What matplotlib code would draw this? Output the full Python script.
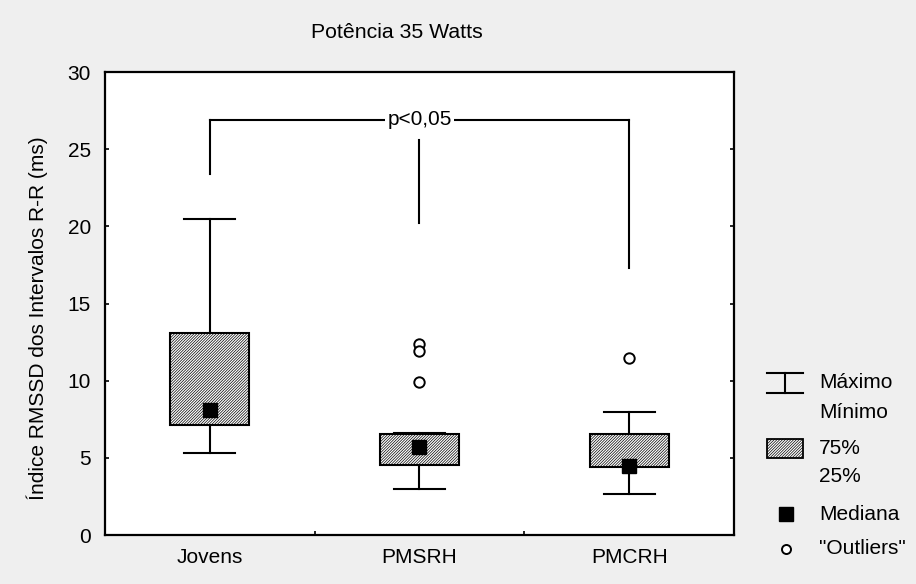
import matplotlib
matplotlib.use("Agg")
import matplotlib.pyplot as plt
from matplotlib.patches import Rectangle
from matplotlib.lines import Line2D

plt.rcParams['font.family'] = ['Liberation Sans', 'DejaVu Sans']
plt.rcParams['hatch.color'] = '#666666'
plt.rcParams['hatch.linewidth'] = 0.5

# summary statistics per group (ms)
groups = ["Jovens", "PMSRH", "PMCRH"]
whisker_hi = [20.5, 6.6, 8.0]
q3 = [13.1, 6.55, 6.55]
median = [8.1, 5.7, 4.5]
q1 = [7.15, 4.55, 4.4]
whisker_lo = [5.3, 2.95, 2.65]
outliers = [[], [12.4, 11.9, 9.9], [11.45]]

# significance bracket
bracket_top = 26.9
bracket_ends = [23.4, 20.2, 17.3]
bracket_mid_start = 25.6
p_text = "p<0,05"

HATCH = '/' * 12
BOX_FACE = 'white'

stats = []
for i in range(len(groups)):
    stats.append(dict(label=groups[i], whishi=whisker_hi[i], q3=q3[i], med=median[i],
                      q1=q1[i], whislo=whisker_lo[i], fliers=outliers[i]))

fig = plt.figure(figsize=(9.16, 5.84), dpi=100, facecolor='#efefef')
ax = fig.add_axes([0.1146, 0.0839, 0.6867, 0.7928])
ax.set_facecolor('white')

pos = list(range(len(groups)))
ax.bxp(stats, positions=pos, widths=0.376, capwidths=0.243, patch_artist=True,
       boxprops=dict(facecolor=BOX_FACE, edgecolor='black', linewidth=1.5, hatch=HATCH),
       whiskerprops=dict(color='black', linewidth=1.5),
       capprops=dict(color='black', linewidth=1.5),
       medianprops=dict(linestyle='none'),
       flierprops=dict(marker='o', markerfacecolor='white', markeredgecolor='black',
                       markersize=7.5, markeredgewidth=1.4))
ax.plot(pos, median, 's', color='black', markersize=10.5, zorder=5)

# bracket lines
ax.plot([pos[0], pos[2]], [bracket_top, bracket_top], color='black', lw=1.5)
ax.plot([pos[0], pos[0]], [bracket_top, bracket_ends[0]], color='black', lw=1.5)
ax.plot([pos[2], pos[2]], [bracket_top, bracket_ends[2]], color='black', lw=1.5)
ax.plot([pos[1], pos[1]], [bracket_mid_start, bracket_ends[1]], color='black', lw=1.5)
ax.text(pos[1], bracket_top, p_text, ha='center', va='center', fontsize=15,
        bbox=dict(facecolor='white', edgecolor='none', pad=2))

ax.set_xlim(-0.5, 2.5)
ax.set_ylim(0, 30)
ax.set_yticks([0, 5, 10, 15, 20, 25, 30])
ax.set_xticks(pos)
ax.set_xticklabels(groups)
ax.set_xticks([0.5, 1.5], minor=True)
ax.tick_params(axis='x', which='major', length=0, pad=9, labelsize=15)
ax.tick_params(axis='x', which='minor', direction='in', length=3, width=1.2)
ax.tick_params(axis='y', direction='in', length=3, width=1.2, pad=10, labelsize=15,
               right=True)
for s in ax.spines.values():
    s.set_linewidth(1.6)

fig.text(397 / 916, 1 - 33 / 584, "Potência 35 Watts", ha='center', va='center', fontsize=15.3)
fig.text(37 / 916, 1 - 318 / 584, "Índice RMSSD dos Intervalos R-R (ms)", rotation=90,
         ha='center', va='center', fontsize=15)

# legend drawn in pixel coordinates
lg = fig.add_axes([740 / 916, 0, 176 / 916, 224 / 584])
lg.set_xlim(740, 916)
lg.set_ylim(584, 360)
lg.set_axis_off()
lg.add_line(Line2D([767, 803], [373, 373], color='black', lw=1.5))
lg.add_line(Line2D([767, 803], [393, 393], color='black', lw=1.5))
lg.add_line(Line2D([785, 785], [373, 393], color='black', lw=1.5))
lg.add_patch(Rectangle((767, 439), 36, 19, facecolor=BOX_FACE, edgecolor='black',
                       lw=1.3, hatch=HATCH))
lg.plot([786], [514], 's', color='black', markersize=10.5)
lg.plot([786], [549], 'o', markerfacecolor='white', markeredgecolor='black',
        markersize=6.5, markeredgewidth=1.4)
for txt, y in [("Máximo", 383), ("Mínimo", 412), ("75%", 449), ("25%", 477),
               ("Mediana", 514), ('"Outliers"', 548)]:
    lg.text(819, y, txt, ha='left', va='center', fontsize=15)

fig.savefig("out.png", dpi=100, facecolor=fig.get_facecolor())
